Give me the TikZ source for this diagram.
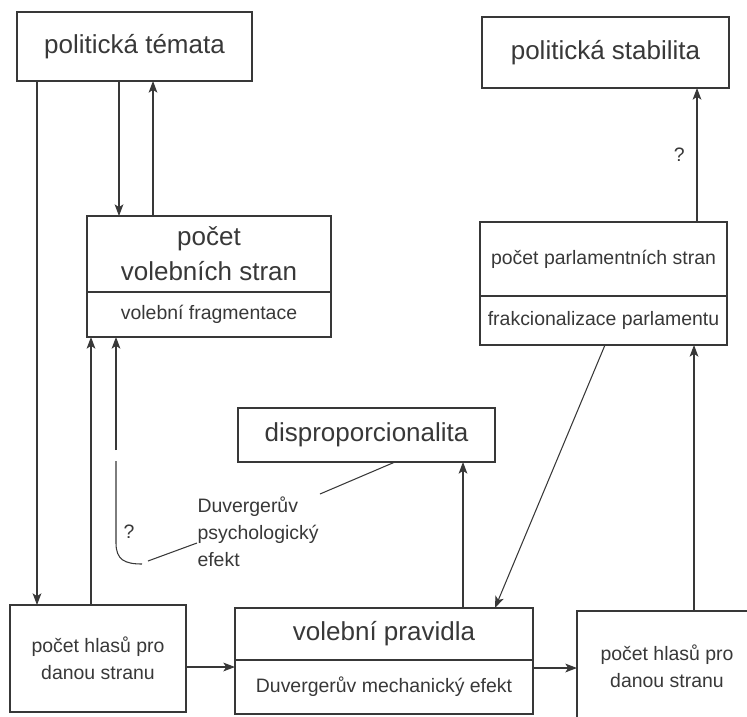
\documentclass[tikz,border=0pt]{standalone}
\usepackage{fontspec}
\setmainfont{Liberation Sans}
\usetikzlibrary{arrows.meta}

\begin{document}
\begin{tikzpicture}[x=0.03cm,y=-0.03cm,line width=0.9pt,color=black!78,>={Stealth[length=10pt,width=7.5pt,inset=2.5pt]}]
	\tikzstyle{box}=[draw,rectangle,inner sep=0pt,outer sep=0pt,align=center]
	\tikzstyle{big}=[font=\fontsize{22.2}{29.8}\selectfont]
	\tikzstyle{small}=[font=\fontsize{16.6}{23}\selectfont]
	\useasboundingbox (0,0) rectangle (747,716);
	\clip (0,0) rectangle (747,716);
	% boxes
	\node[box,big,minimum width=7.05cm,minimum height=2.07cm](tem) at (134.5,46.5) {politická témata};
	\node[box,big,minimum width=7.41cm,minimum height=2.13cm](stab) at (605.5,52.5) {politická stabilita};
	\node[box,big,minimum width=7.32cm,minimum height=2.28cm](volstr) at (209,254) {počet\\volebních stran};
	\node[box,small,minimum width=7.32cm,minimum height=1.35cm](frag) at (209,314.5) {volební fragmentace};
	\node[box,small,minimum width=7.41cm,minimum height=2.22cm](parl) at (603.5,259) {počet parlamentních stran};
	\node[box,small,minimum width=7.41cm,minimum height=1.47cm](frakc) at (603.5,320.5) {frakcionalizace parlamentu};
	\node[box,big,minimum width=7.71cm,minimum height=1.62cm](disp) at (366.5,435) {disproporcionalita};
	\node[box,big,minimum width=8.94cm,minimum height=1.56cm](prav) at (384,634) {volební pravidla};
	\node[box,small,minimum width=8.94cm,minimum height=1.62cm](mech) at (384,687) {Duvergerův mechanický efekt};
	\node[box,small,minimum width=5.28cm,minimum height=3.21cm](hlasL) at (98,658.5) {počet hlasů pro\\danou stranu};
	\node[box,small,minimum width=5.4cm,minimum height=3.3cm](hlasR) at (667,666) {počet hlasů pro\\danou stranu};
	\node[small,inner sep=0pt,anchor=west,align=left](psych) at (197,532) {Duvergerův\\psychologický\\efekt};
	\node[small,inner sep=0pt](qm) at (129,532) {?};
	% arrows
	\draw[->] (tem.south -| 37,0) -- (hlasL.north -| 37,0);
	\draw[->] (tem.south -| 119,0) -- (volstr.north -| 119,0);
	\draw[->] (volstr.north -| 153,0) -- (tem.south -| 153,0);
	\draw[->] (hlasL.north -| 91,0) -- (frag.south -| 91,0);
	\coordinate (q1) at (116,450);
	\coordinate (q2) at (116,461);
	\coordinate (q3) at (142,564);
	\coordinate (q4) at (148,561);
	\draw[->] (q1) -- (frag.south -| q1);
	\draw (q2) -- (116,543) .. controls (116,560) and (125,564) .. (q3);
	\draw (q4) -- (psych.west |- 0,543);
	\draw[->] (hlasL.east |- 0,667) -- (mech.west |- 0,667);
	\draw[->] (mech.east |- 0,668) -- (hlasR.west |- 0,668);
	\draw[->] (prav.north -| 463,0) -- (disp.south -| 463,0);
	\draw[->] (frakc.south -| 605,0) -- (prav.north -| 495,0);
	\draw[->] (hlasR.north -| 694,0) -- (frakc.south -| 694,0);
	\draw[->] (parl.north -| 697,0) -- node[left=10pt,inner sep=0pt,small]{?} (stab.south -| 697,0);
	\coordinate (d1) at (320,494);
	\draw (disp.south -| 395,0) -- (d1);
\end{tikzpicture}
\end{document}
